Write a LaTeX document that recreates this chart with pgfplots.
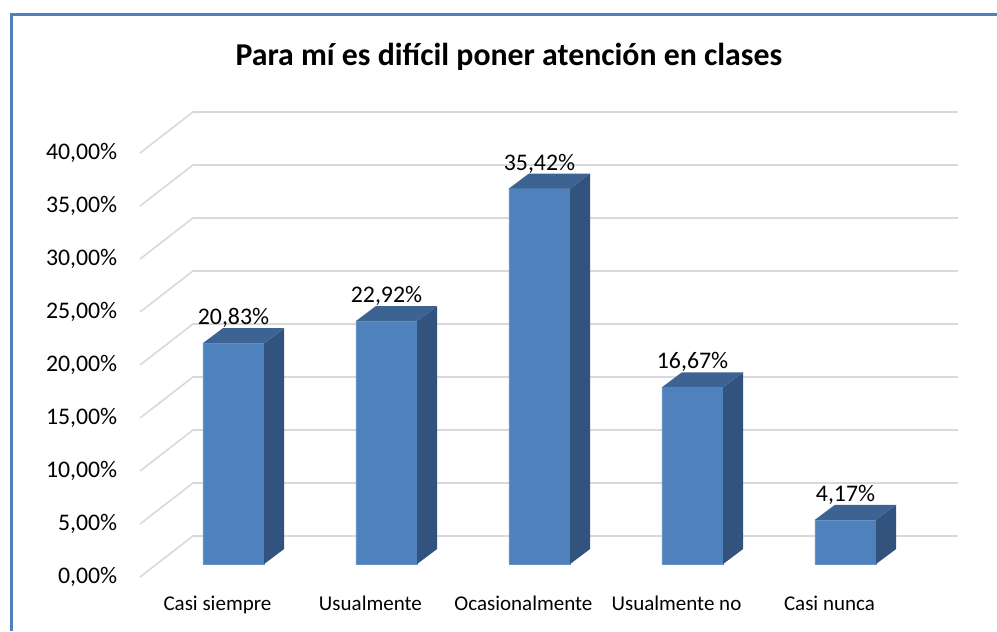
\documentclass[border=0pt]{standalone}
\usepackage{fontspec}
\setmainfont{Carlito}
\usepackage{pgfplots}
\pgfplotsset{compat=1.18}
\definecolor{front}{RGB}{79,129,189}
\definecolor{side}{RGB}{50,83,125}
\definecolor{topc}{RGB}{61,99,147}
\definecolor{gridc}{RGB}{217,217,217}
\definecolor{framec}{RGB}{79,129,189}
\begin{document}
\begin{tikzpicture}
\begin{axis}[name=ax, scale only axis, width=997bp, height=631bp,
  xmin=-1.526, xmax=4.990, ymin=-6.321, ymax=53.208,
  hide axis, clip=false]
% gridlines (back wall + side wall)
\pgfplotsinvokeforeach{0,5,...,40}{
  \draw[gridc, line width=1.6bp] (axis cs:-0.611,#1-1.23) -- (axis cs:-0.265,#1+2.64) -- (axis cs:4.735,#1+2.64);
  \node[anchor=east, font=\fontsize{23.8bp}{28bp}\selectfont] at (axis cs:-0.737,#1-1.23) {#1,00\%};
}
% front faces
\addplot[ybar, bar width=0.4, fill=front, draw=front!85!white, line width=0.6bp] coordinates {(0,20.83) (1,22.92) (2,35.42) (3,16.67) (4,4.17)};
% side faces
\addplot[fill=side, draw=none] coordinates {(0.2,0) (0.3307,1.415) (0.3307,22.245) (0.2,20.83)};
\addplot[fill=side, draw=none] coordinates {(1.2,0) (1.3307,1.415) (1.3307,24.335) (1.2,22.92)};
\addplot[fill=side, draw=none] coordinates {(2.2,0) (2.3307,1.415) (2.3307,36.835) (2.2,35.42)};
\addplot[fill=side, draw=none] coordinates {(3.2,0) (3.3307,1.415) (3.3307,18.085) (3.2,16.67)};
\addplot[fill=side, draw=none] coordinates {(4.2,0) (4.3307,1.415) (4.3307,5.585) (4.2,4.17)};
% top faces
\addplot[fill=topc, draw=none] coordinates {(-0.2,20.83) (0.2,20.83) (0.3307,22.245) (-0.0693,22.245)};
\addplot[fill=topc, draw=none] coordinates {(0.8,22.92) (1.2,22.92) (1.3307,24.335) (0.9307,24.335)};
\addplot[fill=topc, draw=none] coordinates {(1.8,35.42) (2.2,35.42) (2.3307,36.835) (1.9307,36.835)};
\addplot[fill=topc, draw=none] coordinates {(2.8,16.67) (3.2,16.67) (3.3307,18.085) (2.9307,18.085)};
\addplot[fill=topc, draw=none] coordinates {(3.8,4.17) (4.2,4.17) (4.3307,5.585) (3.9307,5.585)};
% data labels
\node[font=\fontsize{23.8bp}{28bp}\selectfont] at (axis cs:0,20.83+2.36) {20,83\%};
\node[font=\fontsize{23.8bp}{28bp}\selectfont] at (axis cs:1,22.92+2.36) {22,92\%};
\node[font=\fontsize{23.8bp}{28bp}\selectfont] at (axis cs:2,35.42+2.36) {35,42\%};
\node[font=\fontsize{23.8bp}{28bp}\selectfont] at (axis cs:3,16.67+2.36) {16,67\%};
\node[font=\fontsize{23.8bp}{28bp}\selectfont] at (axis cs:4,4.17+2.36) {4,17\%};
% category labels
\node[anchor=base, font=\fontsize{21bp}{25bp}\selectfont] at (axis cs:-0.105,-4.34) {Casi siempre};
\node[anchor=base, font=\fontsize{21bp}{25bp}\selectfont] at (axis cs:0.895,-4.34) {Usualmente};
\node[anchor=base, font=\fontsize{21bp}{25bp}\selectfont] at (axis cs:1.895,-4.34) {Ocasionalmente};
\node[anchor=base, font=\fontsize{21bp}{25bp}\selectfont] at (axis cs:2.895,-4.34) {Usualmente no};
\node[anchor=base, font=\fontsize{21bp}{25bp}\selectfont] at (axis cs:3.895,-4.34) {Casi nunca};
% title
\node[font=\bfseries\fontsize{31.8bp}{36bp}\selectfont] at (axis cs:1.80,47.85) {Para mí es difícil poner atención en clases};
% frame
\draw[framec, line width=3.5bp, line join=miter] (axis cs:-1.451,-6.321) -- (axis cs:-1.451,51.84) -- (axis cs:4.990,51.84);
\end{axis}
\pgfresetboundingbox
\path[use as bounding box] (ax.south west) rectangle (ax.north east);
\end{tikzpicture}
\end{document}
